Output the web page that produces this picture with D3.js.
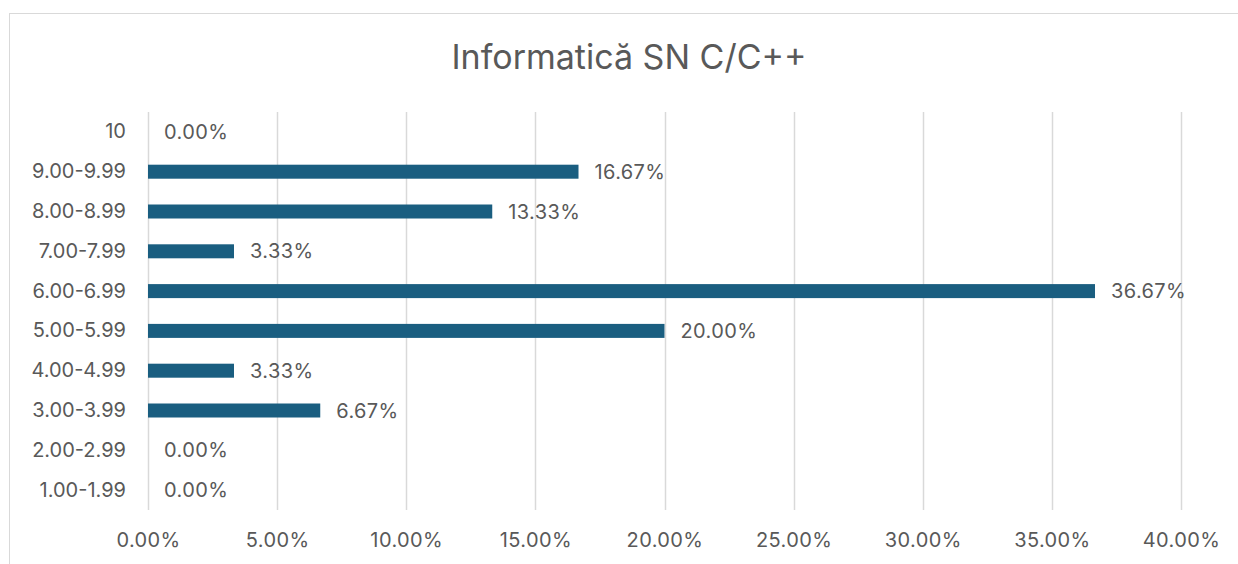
<!DOCTYPE html>
<html>
<head>
<meta charset="utf-8">
<script src="https://cdn.jsdelivr.net/npm/d3@7"></script>
<style>
  body { margin: 0; background: #fff; }
  text { font-family: Inter, "Open Sans", sans-serif; fill: #595959; }
</style>
</head>
<body>
<svg width="1238" height="564" viewBox="0 0 1238 564"></svg>
<script>
// Chart data
const title = "Informatică SN C/C++";
const categories = ["10", "9.00-9.99", "8.00-8.99", "7.00-7.99", "6.00-6.99", "5.00-5.99",
    "4.00-4.99", "3.00-3.99", "2.00-2.99", "1.00-1.99"];
const shares = [0, 16.67, 13.33, 3.33, 36.67, 20.00, 3.33, 6.67, 0, 0];
const xTicks = [0, 5, 10, 15, 20, 25, 30, 35, 40];

const svg = d3.select("svg");
const labelSize = 20;

// Chart area border
svg.append("rect")
    .attr("x", 9.5).attr("y", 13.5)
    .attr("width", 1250).attr("height", 570)
    .attr("fill", "none")
    .attr("stroke", "#d9d9d9");

const plot = { left: 148, right: 1181, top: 112, bottom: 510 };

const x = d3.scaleLinear().domain([0, 40]).range([plot.left, plot.right]);
const y = d3.scaleBand().domain(categories).range([plot.top, plot.bottom]);

// Gridlines
svg.append("g")
    .selectAll("line")
    .data(xTicks)
    .enter()
    .append("line")
    .attr("x1", d => Math.round(x(d)) + 0.5)
    .attr("x2", d => Math.round(x(d)) + 0.5)
    .attr("y1", plot.top)
    .attr("y2", plot.bottom)
    .attr("stroke", "#d9d9d9")
    .attr("stroke-width", 1.5);

// X axis labels
const xAxis = svg.append("g")
    .attr("transform", `translate(0,${plot.bottom})`)
    .call(d3.axisBottom(x).tickValues(xTicks).tickSize(0).tickPadding(23)
        .tickFormat(d => d.toFixed(2) + "%"));
xAxis.select(".domain").remove();
xAxis.selectAll("text")
    .attr("font-size", labelSize)
    .style("font-family", "Inter, sans-serif")
    .style("letter-spacing", "0.4px")
    .attr("fill", "#595959");

// Y axis labels
const yAxis = svg.append("g")
    .attr("transform", `translate(${plot.left},0)`)
    .call(d3.axisLeft(y).tickSize(0).tickPadding(22));
yAxis.select(".domain").remove();
yAxis.selectAll("text")
    .attr("font-size", labelSize)
    .style("font-family", "Inter, sans-serif")
    .attr("fill", "#595959");

// Bars
const barH = 14;
svg.append("g")
    .selectAll("rect")
    .data(shares)
    .enter()
    .append("rect")
    .attr("x", x(0))
    .attr("y", (d, i) => y(categories[i]) + y.bandwidth() / 2 - barH / 2)
    .attr("width", d => x(d) - x(0))
    .attr("height", barH)
    .attr("fill", "#1a5e80");

// Data labels
svg.append("g")
    .selectAll("text")
    .data(shares)
    .enter()
    .append("text")
    .attr("x", d => x(d) + 16)
    .attr("y", (d, i) => y(categories[i]) + y.bandwidth() / 2)
    .attr("dy", "0.35em")
    .attr("font-size", labelSize)
    .style("letter-spacing", "0.4px")
    .text(d => d.toFixed(2) + "%");

// Title
svg.append("text")
    .attr("x", 629)
    .attr("y", 69)
    .attr("text-anchor", "middle")
    .attr("font-size", 34)
    .text(title);
</script>
</body>
</html>
